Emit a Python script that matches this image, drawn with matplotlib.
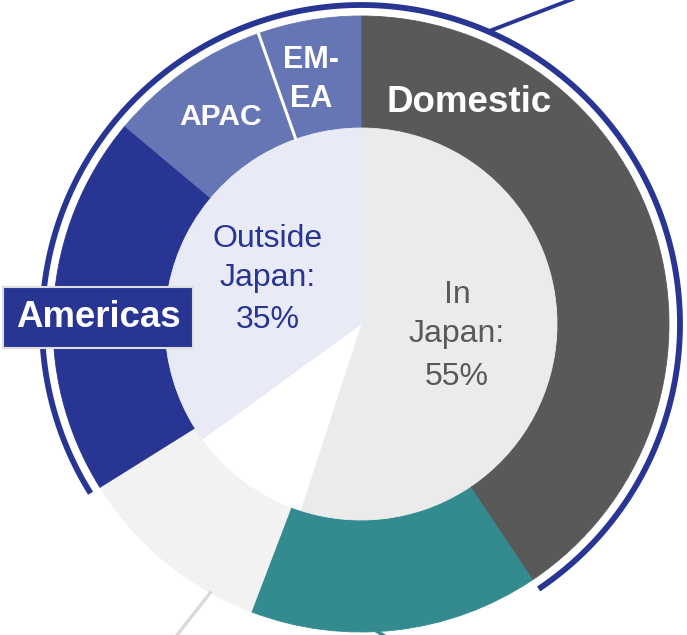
import numpy as np
import matplotlib
matplotlib.use("Agg")
import matplotlib.pyplot as plt

plt.rcParams['font.family'] = ['Liberation Sans', 'DejaVu Sans']

# outer ring, clockwise from 12 o'clock
outer_labels = ['Domestic', 'Japan other', 'Other', 'Americas', 'APAC', 'EMEA']
outer_values = [40.6, 15.2, 10.3, 20.0, 8.5, 5.4]
outer_colors = ['#595959', '#348b8f', '#f2f2f2', '#283593', '#6675b3', '#6675b3']

# inner pie
inner_labels = ['In\nJapan:\n55%', '', 'Outside\nJapan:\n35%']
inner_values = [55, 10, 35]
inner_colors = ['#ebebeb', '#ffffff', '#e8ebf5']

W, H = 687, 635
cx, cy = 361, H - 324
r_out, r_in, r_arc = 308, 196, 319
blue = '#283593'

fig = plt.figure(figsize=(W / 100, H / 100), dpi=100)
ax = fig.add_axes([0, 0, 1, 1])

w_out, _ = ax.pie(outer_values, radius=r_out, center=(cx, cy), startangle=90, counterclock=False,
                  colors=outer_colors, wedgeprops=dict(width=r_out - r_in, linewidth=0.6))
w_in, _ = ax.pie(inner_values, radius=r_in, center=(cx, cy), startangle=90, counterclock=False,
                 colors=inner_colors, wedgeprops=dict(linewidth=0.6))
for w in list(w_out) + list(w_in):
    w.set_edgecolor(w.get_facecolor())

ax.set_xlim(0, W)
ax.set_ylim(0, H)
ax.set_aspect('equal')
ax.axis('off')

cum = np.concatenate([[0], np.cumsum(outer_values)]) / sum(outer_values) * 360


def pt(theta, r):
    # theta: degrees clockwise from top
    t = np.radians(theta)
    return cx + r * np.sin(t), cy + r * np.cos(t)


# blue arc over Americas..EMEA and Domestic
th = np.linspace(cum[3] - 360, cum[1], 400)
ax.plot(*pt(th, r_arc), color=blue, lw=4.2, solid_capstyle='butt')

# white divider between APAC and EMEA
th_div = np.array([cum[5], cum[5]])
ax.plot(*pt(th_div, np.array([r_in, r_out])), color='white', lw=2.2)

# leader lines
x0, y0 = pt(23.5, r_arc)
ang = np.radians(21)
ax.plot([x0, x0 + 160 * np.cos(ang)], [y0, y0 + 160 * np.sin(ang)], color=blue, lw=2.8)
x0, y0 = pt(209.3, r_out)
ang = np.radians(-128)
ax.plot([x0, x0 + 80 * np.cos(ang)], [y0, y0 + 80 * np.sin(ang)], color='#d9d9d9', lw=2.4)
x0, y0 = pt(177, r_out)
ang = np.radians(-30)
ax.plot([x0, x0 + 60 * np.cos(ang)], [y0, y0 + 60 * np.sin(ang)], color=outer_colors[1], lw=2.4)


def lines(x, baselines, text, **kw):
    for yb, s in zip(baselines, text.split('\n')):
        ax.text(x, H - yb, s, ha='center', va='baseline', **kw)


lines(469, [112], 'Domestic', color='white', fontsize=26.5, fontweight='bold')
lines(311, [68, 107], 'EM-\nEA', color='white', fontsize=22, fontweight='bold')
lines(220.5, [125], 'APAC', color='white', fontsize=21.6, fontweight='bold')
ax.text(98, H - 327, 'Americas', ha='center', va='baseline', color='white',
        fontsize=26.4, fontweight='bold',
        bbox=dict(boxstyle='square,pad=0.35', facecolor=blue, edgecolor='#dddddd', linewidth=1.5))

lines(268, [247, 286, 328], inner_labels[2], color=blue, fontsize=23)
lines(457, [303, 342, 385], inner_labels[0], color='#595959', fontsize=23)

fig.savefig('out.png', dpi=100)
